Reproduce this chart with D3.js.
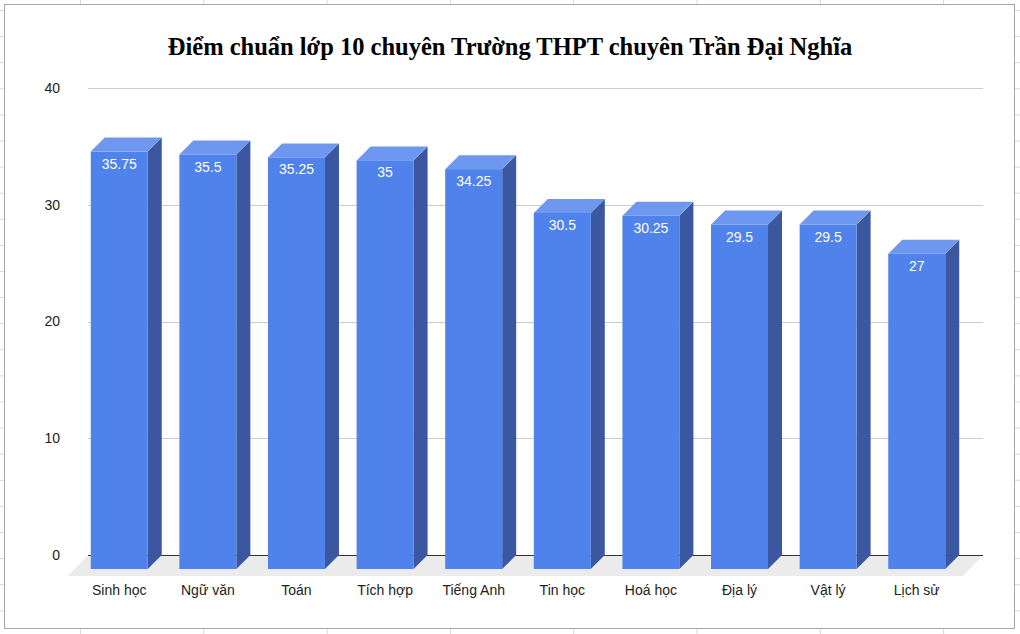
<!DOCTYPE html>
<html>
<head>
<meta charset="utf-8">
<script src="https://cdn.jsdelivr.net/npm/d3@7"></script>
<style>
  body { margin: 0; background: #fff; }
  svg { display: block; }
</style>
</head>
<body>
<div id="chart"></div>
<script>
// data
var subjects = ["Sinh học", "Ngữ văn", "Toán", "Tích hợp", "Tiếng Anh", "Tin học", "Hoá học", "Địa lý", "Vật lý", "Lịch sử"];
var scores = [35.75, 35.5, 35.25, 35, 34.25, 30.5, 30.25, 29.5, 29.5, 27];
var yTicks = [0, 10, 20, 30, 40];
var title = "Điểm chuẩn lớp 10 chuyên Trường THPT chuyên Trần Đại Nghĩa";

var width = 1020, height = 634;
var depthX = 14, depthY = 14;

var data = subjects.map(function(s, i) { return { name: s, value: scores[i] }; });

var svg = d3.select("#chart")
    .append("svg")
    .attr("width", width)
    .attr("height", height);

// spreadsheet cells behind the chart
var bg = svg.append("g").attr("stroke", "#d9d9d9").attr("stroke-width", 1);
bg.selectAll(".row")
    .data(d3.range(0, 25))
    .enter().append("line")
    .attr("x1", 0).attr("x2", width)
    .attr("y1", function(d) { return 10.5 + d * 26.1; })
    .attr("y2", function(d) { return 10.5 + d * 26.1; });
bg.selectAll(".col")
    .data(d3.range(0, 8))
    .enter().append("line")
    .attr("y1", 0).attr("y2", height)
    .attr("x1", function(d) { return 80.5 + d * 123.3; })
    .attr("x2", function(d) { return 80.5 + d * 123.3; });

// chart frame
svg.append("rect")
    .attr("x", 4.5).attr("y", 4.5)
    .attr("width", 1010).attr("height", 624)
    .attr("fill", "#fff")
    .attr("stroke", "#a6a6a6");

svg.append("text")
    .attr("x", 510)
    .attr("y", 55)
    .attr("text-anchor", "middle")
    .attr("font-family", "Liberation Serif, Times New Roman, serif")
    .attr("font-weight", "bold")
    .attr("font-size", 24.5)
    .attr("fill", "#000")
    .text(title);

var x = d3.scaleBand()
    .domain(subjects)
    .range([89, 975])
    .paddingInner(0.357)
    .paddingOuter(0.178);

var y = d3.scaleLinear()
    .domain([0, 40])
    .range([555, 88]);

// gridlines
svg.append("g")
    .selectAll("line")
    .data(yTicks.filter(function(d) { return d > 0; }))
    .enter().append("line")
    .attr("x1", 88).attr("x2", 983)
    .attr("y1", function(d) { return Math.round(y(d)) + 0.5; })
    .attr("y2", function(d) { return Math.round(y(d)) + 0.5; })
    .attr("stroke", "#cccccc");

// y tick labels
svg.append("g")
    .selectAll("text")
    .data(yTicks)
    .enter().append("text")
    .attr("x", 60)
    .attr("y", function(d) { return y(d); })
    .attr("dy", "0.35em")
    .attr("text-anchor", "end")
    .attr("font-family", "Liberation Sans, Arial, sans-serif")
    .attr("font-size", 14)
    .attr("fill", "#222")
    .text(function(d) { return d; });

// floor
var y0 = y(0);
svg.append("path")
    .attr("d", "M88," + y0 + "L983," + y0 + "L963," + (y0 + 21) + "L68," + (y0 + 21) + "Z")
    .attr("fill", "#ebebeb");

svg.append("line")
    .attr("x1", 88).attr("x2", 983)
    .attr("y1", y0 + 0.5).attr("y2", y0 + 0.5)
    .attr("stroke", "#333")
    .attr("stroke-width", 1.2);

// 3d bars
var bars = svg.append("g").selectAll(".bar")
    .data(data)
    .enter().append("g")
    .attr("class", "bar");

// side face
bars.append("path")
    .attr("fill", "#3a579f")
    .attr("d", function(d) {
        var bx = x(d.name) + x.bandwidth(), fx = bx - depthX;
        var top = y(d.value), bot = y(0);
        return "M" + fx + "," + (top + depthY) + "L" + bx + "," + top + "L" + bx + "," + bot +
            "L" + fx + "," + (bot + depthY) + "Z";
    });

// top face
bars.append("path")
    .attr("fill", "#6e98f0")
    .attr("d", function(d) {
        var bx = x(d.name), w = x.bandwidth(), top = y(d.value);
        return "M" + (bx - depthX) + "," + (top + depthY) + "L" + bx + "," + top + "L" + (bx + w) + "," + top +
            "L" + (bx + w - depthX) + "," + (top + depthY) + "Z";
    });

// front face
bars.append("rect")
    .attr("fill", "#4f82ea")
    .attr("x", function(d) { return x(d.name) - depthX; })
    .attr("y", function(d) { return y(d.value) + depthY; })
    .attr("width", x.bandwidth())
    .attr("height", function(d) { return y(0) - y(d.value); });

bars.append("text")
    .attr("x", function(d) { return x(d.name) - depthX + x.bandwidth() / 2; })
    .attr("y", function(d) { return y(d.value) + depthY + 17; })
    .attr("text-anchor", "middle")
    .attr("font-family", "Liberation Sans, Arial, sans-serif")
    .attr("font-size", 14)
    .attr("fill", "#fff")
    .text(function(d) { return d.value; });

// category labels
svg.append("g")
    .selectAll("text")
    .data(subjects)
    .enter().append("text")
    .attr("x", function(d) { return x(d) - depthX + x.bandwidth() / 2; })
    .attr("y", 595)
    .attr("text-anchor", "middle")
    .attr("font-family", "Liberation Sans, Arial, sans-serif")
    .attr("font-size", 14)
    .attr("fill", "#222")
    .text(function(d) { return d; });
</script>
</body>
</html>
